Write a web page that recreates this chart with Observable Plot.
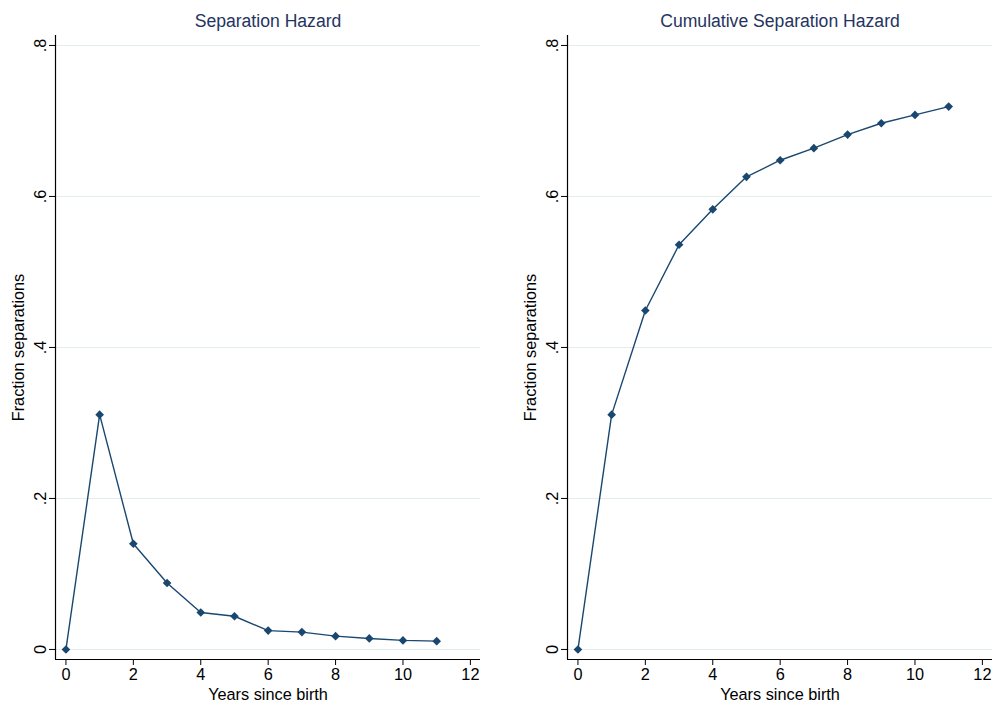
<!DOCTYPE html>
<html><head><meta charset="utf-8">
<script src="https://cdn.jsdelivr.net/npm/d3@7"></script>
<script src="https://cdn.jsdelivr.net/npm/@observablehq/plot@0.6"></script>
<style>
body{margin:0;background:#fff;}
#wrap{position:relative;width:993px;height:702px;overflow:hidden;}
.panel{position:absolute;top:0;}
</style>
</head><body>
<div id="wrap"><div id="p1" class="panel" style="left:0"></div><div id="p2" class="panel" style="left:512px"></div></div>
<script>
const years = [0,1,2,3,4,5,6,7,8,9,10,11];
const hazard = [0,0.311,0.140,0.088,0.049,0.044,0.025,0.023,0.0176,0.0146,0.012,0.011];
const cumulative = [0,0.311,0.449,0.536,0.583,0.626,0.648,0.664,0.682,0.697,0.708,0.719];
const xTicks = [0,2,4,6,8,10,12];
const yTicks = [0,0.2,0.4,0.6,0.8];
const titles = ["Separation Hazard","Cumulative Separation Hazard"];
const xLabel = "Years since birth";
const yLabel = "Fraction separations";

const navy = "#1a476f";
const xDomain = [-0.31, 12.3];
const yDomain = [-0.0133, 0.8132];
const fmt = d => d === 0 ? "0" : String(d).replace(/^0/, "");

function panel(title, values, width, marginRight) {
  const data = years.map((x, i) => ({x, y: values[i]}));
  return Plot.plot({
    width, height: 702,
    marginLeft: 55, marginRight, marginTop: 35, marginBottom: 43,
    style: {fontFamily: "'Liberation Sans', Arial, sans-serif", fontSize: "16.3px", color: "#000", background: "#fff"},
    x: {domain: xDomain},
    y: {domain: yDomain},
    marks: [
      Plot.gridY(yTicks, {stroke: "#e3ecee", strokeOpacity: 1}),
      Plot.ruleX([xDomain[0]], {stroke: "#000", strokeWidth: 1.2}),
      Plot.ruleY([yDomain[0]], {stroke: "#000", strokeWidth: 1.2}),
      Plot.axisX(xTicks, {tickSize: 6, tickPadding: 3, label: xLabel, labelAnchor: "center", labelArrow: "none", labelOffset: 40, stroke: "#000"}),
      Plot.axisY(yTicks, {tickSize: 6, tickRotate: -90, tickPadding: 4, tickFormat: fmt, label: yLabel, labelAnchor: "center", labelArrow: "none", labelOffset: 43, stroke: "#000"}),
      Plot.line(data, {x: "x", y: "y", stroke: navy, strokeWidth: 1.4}),
      Plot.dot(data, {x: "x", y: "y", symbol: "diamond2", r: 3.9, fill: navy, stroke: "none"}),
      Plot.text([title], {frameAnchor: "top", dy: -14, fontSize: 17.6, fill: "#25345f", lineAnchor: "middle"})
    ]
  });
}
document.getElementById("p1").appendChild(panel(titles[0], hazard, 512, 32));
document.getElementById("p2").appendChild(panel(titles[1], cumulative, 481, 1));
</script>
</body></html>
